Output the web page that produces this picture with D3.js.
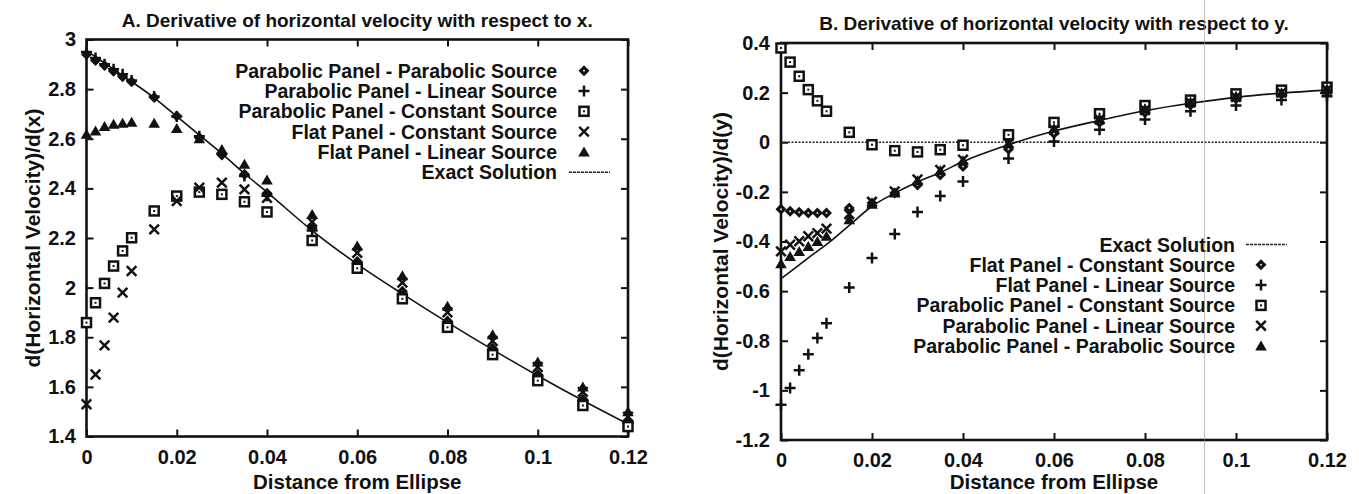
<!DOCTYPE html>
<html>
<head>
<meta charset="utf-8">
<script src="https://cdn.jsdelivr.net/npm/d3@7"></script>
<style>
  body { margin: 0; background: #fff; }
  svg text { font-family: "Liberation Sans", Arial, Helvetica, sans-serif; font-weight: bold; fill: #111; }
</style>
</head>
<body>
<svg id="chart" width="1359" height="494"></svg>
<script>
const width = 1359;
const height = 494;

// distances from the ellipse, shared by every series
const distances = [0, 0.002, 0.004, 0.006, 0.008, 0.01, 0.015, 0.02, 0.025, 0.03, 0.035, 0.04,
                   0.05, 0.06, 0.07, 0.08, 0.09, 0.1, 0.11, 0.12];

const xTicks = [0, 0.02, 0.04, 0.06, 0.08, 0.1, 0.12];
const yTicksA = [1.4, 1.6, 1.8, 2, 2.2, 2.4, 2.6, 2.8, 3];
const yTicksB = [-1.2, -1, -0.8, -0.6, -0.4, -0.2, 0, 0.2, 0.4];

// panel A : d(u)/d(x)
const exactA     = [2.955, 2.93, 2.905, 2.88, 2.855, 2.83, 2.765, 2.69, 2.615, 2.54, 2.46, 2.385, 2.23, 2.095, 1.975, 1.86, 1.75, 1.645, 1.545, 1.45];
const aParPar    = [2.94, 2.915, 2.895, 2.872, 2.85, 2.83, 2.766, 2.692, 2.604, 2.535, 2.457, 2.38, 2.24, 2.105, 1.985, 1.865, 1.755, 1.65, 1.55, 1.46];
const aParLin    = [2.95, 2.925, 2.9, 2.88, 2.86, 2.835, 2.77, 2.69, 2.61, 2.54, 2.45, 2.37, 2.23, 2.1, 1.975, 1.86, 1.75, 1.645, 1.545, 1.455];
const aParConst  = [1.859, 1.939, 2.017, 2.087, 2.148, 2.201, 2.309, 2.369, 2.385, 2.376, 2.346, 2.305, 2.19, 2.078, 1.955, 1.84, 1.73, 1.625, 1.525, 1.44];
const aFlatConst = [1.53, 1.65, 1.767, 1.879, 1.98, 2.067, 2.235, 2.349, 2.403, 2.423, 2.396, 2.362, 2.265, 2.14, 2.02, 1.9, 1.785, 1.68, 1.58, 1.48];
const aFlatLin   = [2.618, 2.631, 2.649, 2.658, 2.662, 2.667, 2.662, 2.641, 2.6, 2.557, 2.497, 2.434, 2.295, 2.168, 2.048, 1.925, 1.81, 1.7, 1.6, 1.5];

// panel B : d(u)/d(y)
const exactB     = [-0.55, -0.522, -0.494, -0.466, -0.439, -0.412, -0.335, -0.258, -0.205, -0.16, -0.122, -0.078, -0.01, 0.045, 0.088, 0.127, 0.157, 0.181, 0.198, 0.21];
const bFlatConst = [-0.27, -0.278, -0.282, -0.285, -0.285, -0.285, -0.265, -0.245, -0.205, -0.172, -0.132, -0.098, -0.028, 0.035, 0.08, 0.12, 0.15, 0.175, 0.193, 0.205];
const bFlatLin   = [-1.058, -0.99, -0.919, -0.854, -0.789, -0.729, -0.585, -0.467, -0.37, -0.281, -0.217, -0.158, -0.065, 0.003, 0.05, 0.092, 0.125, 0.148, 0.17, 0.185];
const bParConst  = [0.38, 0.323, 0.266, 0.212, 0.167, 0.125, 0.04, -0.01, -0.034, -0.039, -0.03, -0.012, 0.03, 0.08, 0.115, 0.148, 0.17, 0.195, 0.21, 0.222];
const bParLin    = [-0.44, -0.413, -0.399, -0.379, -0.366, -0.348, -0.29, -0.24, -0.198, -0.15, -0.112, -0.07, -0.005, 0.05, 0.092, 0.13, 0.16, 0.182, 0.2, 0.212];
const bParPar    = [-0.49, -0.46, -0.44, -0.42, -0.4, -0.379, -0.312, -0.25, -0.205, -0.155, -0.115, -0.075, -0.005, 0.055, 0.095, 0.135, 0.162, 0.185, 0.2, 0.215];

const labelsA = ['Parabolic Panel - Parabolic Source', 'Parabolic Panel - Linear Source',
                 'Parabolic Panel - Constant Source', 'Flat Panel - Constant Source',
                 'Flat Panel - Linear Source'];
const labelsB = ['Flat Panel - Constant Source', 'Flat Panel - Linear Source',
                 'Parabolic Panel - Constant Source', 'Parabolic Panel - Linear Source',
                 'Parabolic Panel - Parabolic Source'];
// gnuplot point types in key order
const markerOrder = ['diamond', 'plus', 'box', 'cross', 'triangle'];

const svg = d3.select('#chart');

function marker(g, type, cx, cy) {
    const s = 5.5;
    if (type == 'diamond') {
        g.append('path').attr('d', `M${cx},${cy-s}L${cx+s},${cy}L${cx},${cy+s}L${cx-s},${cy}Z`).attr('fill', '#111');
        g.append('circle').attr('cx', cx).attr('cy', cy).attr('r', 1).attr('fill', '#ddd');
    } else if (type == 'plus') {
        g.append('path').attr('d', `M${cx-s},${cy}H${cx+s}M${cx},${cy-s}V${cy+s}`)
            .attr('stroke', '#111').attr('stroke-width', 2.5);
    } else if (type == 'box') {
        g.append('rect').attr('x', cx-4.5).attr('y', cy-4.5).attr('width', 9).attr('height', 9)
            .attr('fill', '#fff').attr('stroke', '#111').attr('stroke-width', 2.5);
        g.append('rect').attr('x', cx-1).attr('y', cy-1).attr('width', 2).attr('height', 2).attr('fill', '#111');
    } else if (type == 'cross') {
        const t = 4.8;
        g.append('path').attr('d', `M${cx-t},${cy-t}L${cx+t},${cy+t}M${cx-t},${cy+t}L${cx+t},${cy-t}`)
            .attr('stroke', '#111').attr('stroke-width', 2.5);
    } else if (type == 'triangle') {
        g.append('path').attr('d', `M${cx},${cy-5.5}L${cx+5.8},${cy+4.5}L${cx-5.8},${cy+4.5}Z`).attr('fill', '#111');
    }
}

function drawPanel(opt) {
    const x = d3.scaleLinear().domain([0, 0.12]).range([opt.left, opt.right]);
    const y = d3.scaleLinear().domain(opt.yDomain).range([opt.bottom, opt.top]);
    const g = svg.append('g');

    // inward ticks on all four sides
    g.append('g').attr('transform', `translate(0, ${opt.bottom})`)
        .call(d3.axisBottom(x).tickValues(xTicks).tickSize(-7).tickPadding(13).tickFormat(d => String(d)));
    g.append('g').attr('transform', `translate(0, ${opt.top})`)
        .call(d3.axisTop(x).tickValues(xTicks).tickSize(-7).tickFormat(''));
    g.append('g').attr('transform', `translate(${opt.left}, 0)`)
        .call(d3.axisLeft(y).tickValues(opt.yTicks).tickSize(-7).tickPadding(opt.yPad).tickFormat(d => String(d)));
    g.append('g').attr('transform', `translate(${opt.right}, 0)`)
        .call(d3.axisRight(y).tickValues(opt.yTicks).tickSize(-7).tickFormat(''));
    g.selectAll('.domain').remove();
    g.selectAll('.tick line').attr('stroke', '#111').attr('stroke-width', 2);
    g.selectAll('.tick text').style('font-size', '20px').attr('fill', '#111');

    g.append('rect')
        .attr('x', opt.left).attr('y', opt.top)
        .attr('width', opt.right - opt.left).attr('height', opt.bottom - opt.top)
        .attr('fill', 'none').attr('stroke', '#111').attr('stroke-width', 2.6);

    if (opt.zeroLine) {
        g.append('line')
            .attr('x1', x(0)).attr('x2', x(0.12)).attr('y1', y(0)).attr('y2', y(0))
            .attr('stroke', '#222').attr('stroke-width', 1.6).attr('stroke-dasharray', '2,1.5');
    }

    const line = d3.line().x((d, i) => x(distances[i])).y(d => y(d)).curve(d3.curveMonotoneX);
    g.append('path').datum(opt.exact).attr('d', line)
        .attr('fill', 'none').attr('stroke', '#111').attr('stroke-width', 1.6);

    opt.series.forEach((vals, k) => {
        const sg = g.append('g');
        vals.forEach((v, i) => marker(sg, markerOrder[k], x(distances[i]), y(v)));
    });

    // key
    const key = g.append('g');
    opt.keyRows.forEach((row, i) => {
        const cy = opt.keyTop + i * 20.3;
        key.append('text').attr('x', opt.keyText).attr('y', cy + 7)
            .attr('text-anchor', 'end').style('font-size', '19.5px').text(row.label);
        if (row.type == 'line') {
            key.append('line').attr('x1', opt.keyMark - 15).attr('x2', opt.keyMark + 26)
                .attr('y1', cy).attr('y2', cy)
                .attr('stroke', '#222').attr('stroke-width', 1.6).attr('stroke-dasharray', '3,1');
        } else {
            marker(key, row.type, opt.keyMark, cy);
        }
    });

    g.append('text').attr('x', (opt.left + opt.right) / 2).attr('y', opt.top - 13)
        .attr('text-anchor', 'middle').style('font-size', '19px').text(opt.title);
    g.append('text').attr('x', (opt.left + opt.right) / 2).attr('y', 488.5)
        .attr('text-anchor', 'middle').style('font-size', '20.5px').text('Distance from Ellipse');
    g.append('text')
        .attr('transform', `translate(${opt.yLabelX}, ${(opt.top + opt.bottom) / 2}) rotate(-90)`)
        .attr('text-anchor', 'middle').attr('dy', '0.35em').style('font-size', '21px').text(opt.yLabel);
}

drawPanel({
    left: 86.5, right: 628, top: 39.5, bottom: 436.5,
    yDomain: [1.4, 3], yTicks: yTicksA, yPad: 10.5,
    title: 'A. Derivative of horizontal velocity with respect to x.',
    yLabel: 'd(Horizontal Velocity)/d(x)', yLabelX: 33,
    exact: exactA,
    series: [aParPar, aParLin, aParConst, aFlatConst, aFlatLin],
    keyRows: labelsA.map((l, i) => ({label: l, type: markerOrder[i]})).concat([{label: 'Exact Solution', type: 'line'}]),
    keyTop: 70.7, keyText: 557, keyMark: 584
});

drawPanel({
    left: 781, right: 1327, top: 43, bottom: 440,
    yDomain: [-1.2, 0.4], yTicks: yTicksB, yPad: 11,
    title: 'B. Derivative of horizontal velocity with respect to y.',
    yLabel: 'd(Horizontal Velocity)/d(y)', yLabelX: 721,
    exact: exactB, zeroLine: true,
    series: [bFlatConst, bFlatLin, bParConst, bParLin, bParPar],
    keyRows: [{label: 'Exact Solution', type: 'line'}].concat(labelsB.map((l, i) => ({label: l, type: markerOrder[i]}))),
    keyTop: 244.5, keyText: 1235, keyMark: 1261
});

// faint vertical scan line present in the original figure
svg.append('line').attr('x1', 1204.5).attr('x2', 1204.5).attr('y1', 0).attr('y2', height)
    .attr('stroke', '#999').attr('stroke-width', 1).attr('opacity', 0.6);
</script>
</body>
</html>
